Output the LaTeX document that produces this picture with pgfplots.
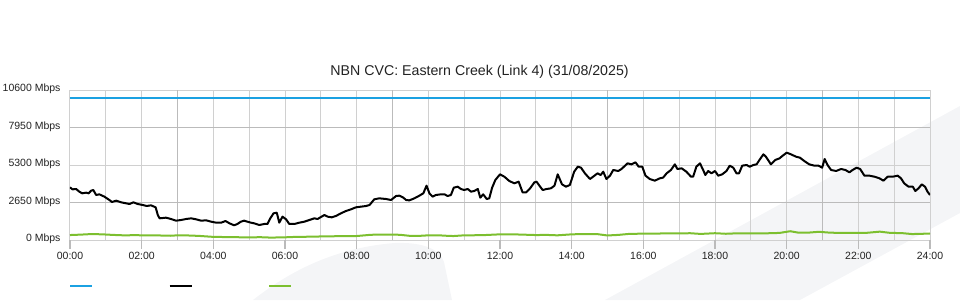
\documentclass[border=0pt]{standalone}
\usepackage{fontspec}
\setmainfont{Liberation Sans}
\usepackage{pgfplots}
\pgfplotsset{compat=1.18}
\definecolor{lblue}{HTML}{1BA1E2}
\definecolor{lgreen}{HTML}{7CBF2F}
\definecolor{gridl}{HTML}{D0D0D0}
\definecolor{gridd}{HTML}{BBBBBB}
\definecolor{swoosh}{HTML}{F4F5F7}
\definecolor{txt}{HTML}{222222}
\begin{document}
\begin{tikzpicture}[x=1pt,y=1pt]
\path[use as bounding box] (0,0) rectangle (960,300);
\begin{scope}
\clip (0,0) rectangle (960,300);
\fill[swoosh] (253,0) .. controls (285,25) and (330,52) .. (395,57) .. controls (425,58) and (440,50) .. (444,38) -- (452,0) -- cycle;
\fill[swoosh] (605,0) -- (960,194) -- (960,87) -- (800,0) -- cycle;
\end{scope}
\begin{axis}[
  at={(70pt,60pt)}, anchor=south west,
  scale only axis, width=860pt, height=150pt,
  xmin=0, xmax=24, ymin=0, ymax=10600,
  axis line style={draw=none},
  xtick={0,2,...,24},
  xticklabels={00:00,02:00,04:00,06:00,08:00,10:00,12:00,14:00,16:00,18:00,20:00,22:00,24:00},
  minor xtick={1,5,7,11,13,17,19,23},
  extra x ticks={3,9,15,21},
  extra x tick labels={},
  extra x tick style={grid=major, major grid style={gridd, line width=1.8pt}, major tick length=0pt},
  ytick={0,5300,10600},
  yticklabels={0 Mbps,5300 Mbps,10600 Mbps},
  extra y ticks={2650,7950},
  extra y tick labels={2650 Mbps,7950 Mbps},
  extra y tick style={grid=major, major grid style={gridd, line width=1.8pt}},
  scaled y ticks=false,
  grid=both,
  major grid style={gridl, line width=1pt},
  minor grid style={gridl, line width=1pt},
  xtick pos=bottom, ytick pos=left,
  tick align=outside,
  major tick length=9pt, minor tick length=0pt,
  tick style={gridd, line width=1.3pt},
  ytick style={draw=none},
  tick label style={font=\fontsize{10.5}{12}\selectfont, text=txt},
  yticklabel style={yshift=0.8pt, xshift=3pt},
  title={NBN CVC: Eastern Creek (Link 4) (31/08/2025)},
  title style={at={(0.4762,1)}, anchor=center, yshift=12pt, font=\fontsize{14.2}{17}\selectfont, text=txt},
  legend columns=3,
  legend image code/.code={\draw[#1] (0pt,0pt) -- (22pt,0pt);},
  legend style={at={(-0.0012,-0.3067)}, anchor=west, draw=none, fill=none, inner sep=0pt,
    nodes={inner sep=0pt}, /tikz/every even column/.append style={column sep=74.5pt}},
]
\addplot[lblue, line width=2pt] coordinates {(0,10000) (24,10000)};
\addlegendentry{\mbox{}}
\addplot[black, line width=2pt, line join=round] table {
0.00 3722
0.07 3580
0.17 3604
0.26 3416
0.34 3298
0.45 3345
0.52 3298
0.59 3486
0.65 3533
0.73 3180
0.82 3227
0.96 3062
1.10 2827
1.17 2685
1.29 2780
1.43 2662
1.57 2591
1.66 2544
1.77 2662
1.89 2544
2.03 2473
2.14 2403
2.26 2450
2.39 2309
2.45 1767
2.50 1531
2.68 1578
2.82 1484
2.96 1366
3.10 1413
3.24 1484
3.38 1531
3.52 1460
3.66 1366
3.80 1390
3.94 1295
4.08 1225
4.22 1225
4.34 1343
4.45 1178
4.58 1040
4.67 1131
4.77 1295
4.86 1366
4.95 1295
5.05 1225
5.14 1178
5.28 1060
5.42 1131
5.51 1131
5.59 1531
5.68 1885
5.77 1931
5.84 1225
5.93 1649
6.03 1460
6.12 1131
6.26 1131
6.40 1225
6.54 1295
6.68 1413
6.82 1531
6.91 1484
7.02 1649
7.10 1767
7.19 1649
7.30 1602
7.42 1696
7.56 1885
7.70 2049
7.84 2167
7.98 2309
8.12 2356
8.26 2403
8.36 2473
8.49 2874
8.63 2945
8.82 2897
8.96 2827
9.10 3109
9.19 3133
9.29 3015
9.38 2827
9.47 2800
9.61 2945
9.75 3133
9.86 3298
9.95 3840
10.03 3298
10.12 3062
10.21 3180
10.35 3227
10.45 3227
10.54 3109
10.63 3180
10.71 3698
10.82 3769
10.91 3604
11.00 3533
11.10 3604
11.19 3416
11.28 3463
11.38 3604
11.45 2992
11.53 3227
11.63 2897
11.70 2945
11.78 3698
11.87 4240
12.00 4641
12.12 4475
12.26 4169
12.40 4005
12.52 4122
12.63 3369
12.73 3369
12.84 3651
12.96 4075
13.02 4122
13.12 3769
13.19 3533
13.30 3604
13.42 3651
13.52 3840
13.61 4641
13.73 3934
13.84 3769
13.95 3887
14.07 4829
14.17 5182
14.26 5111
14.37 4711
14.51 4311
14.60 4475
14.72 4711
14.81 4593
14.88 4829
14.97 4311
15.07 4546
15.16 4947
15.30 4876
15.39 5017
15.56 5418
15.67 5347
15.78 5489
15.87 5182
15.97 5182
16.06 4546
16.18 4311
16.32 4193
16.46 4358
16.55 4405
16.65 4711
16.77 4947
16.88 5347
16.95 5017
17.07 5064
17.20 4829
17.33 4475
17.39 4475
17.48 5182
17.58 5418
17.67 4947
17.73 4593
17.81 4876
17.90 4711
18.00 4876
18.09 4546
18.20 4641
18.32 4876
18.41 5253
18.51 5111
18.60 4711
18.67 4711
18.76 5253
18.88 5300
18.97 5182
19.07 5300
19.16 5347
19.24 5653
19.35 6054
19.42 5889
19.56 5347
19.68 5653
19.80 5771
19.89 5960
20.00 6172
20.12 6054
20.26 5889
20.37 5818
20.49 5583
20.63 5347
20.77 5253
20.89 5253
20.99 5111
21.06 5724
21.14 5300
21.24 4947
21.38 4876
21.52 5017
21.64 4947
21.75 4782
21.84 4947
21.95 5111
22.05 5017
22.17 4546
22.31 4546
22.45 4475
22.59 4358
22.70 4193
22.82 4475
22.96 4475
23.10 4546
23.19 4358
23.28 4005
23.40 3769
23.52 3769
23.59 3463
23.68 3651
23.77 3934
23.86 3769
23.93 3416
24.00 3180
};
\addlegendentry{\mbox{}}
\addplot[lgreen, line width=2pt, line join=round] table {
0.0 350
0.3 380
0.6 420
0.9 400
1.2 360
1.5 330
1.8 340
2.1 330
2.5 320
2.8 300
3.0 330
3.3 320
3.6 290
4.0 220
4.3 210
4.6 200
5.0 180
5.3 200
5.6 170
6.0 190
6.3 220
6.6 230
7.0 250
7.5 270
8.0 280
8.4 370
8.8 380
9.2 370
9.5 290
9.8 300
10.0 330
10.3 330
10.5 300
10.7 280
11.0 330
11.5 340
12.0 400
12.5 390
13.0 350
13.3 360
13.6 330
14.0 400
14.3 420
14.7 420
15.0 320
15.3 360
15.6 430
16.0 450
16.5 460
17.0 460
17.3 480
17.6 430
18.0 480
18.3 440
18.6 470
19.0 460
19.4 470
19.8 500
20.1 620
20.3 530
20.6 520
20.9 580
21.2 520
21.5 500
21.8 510
22.2 500
22.6 590
22.9 500
23.2 490
23.5 420
23.8 440
24.0 460
};
\addlegendentry{\mbox{}}
\end{axis}
\end{tikzpicture}
\end{document}
